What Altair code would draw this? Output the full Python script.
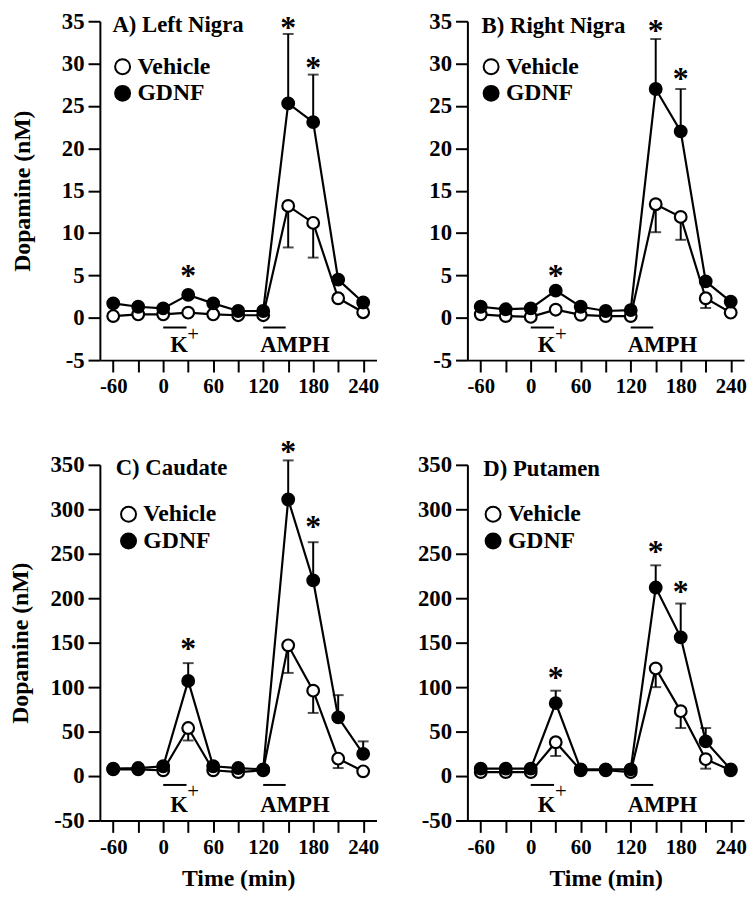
import altair as alt
import pandas as pd

FONT = "Liberation Serif"

times = [-60, -30, 0, 30, 60, 90, 120, 150, 180, 210, 240]
x_ticks = [-60, -30, 0, 30, 60, 90, 120, 150, 180, 210, 240]
x_domain = [-76, 256]

# ---- Panel A: Left Nigra ----
a_vehicle = [0.2, 0.4, 0.4, 0.6, 0.4, 0.3, 0.3, 13.2, 11.2, 2.3, 0.65]
a_gdnf = [1.7, 1.3, 1.1, 2.7, 1.7, 0.8, 0.8, 25.3, 23.1, 4.5, 1.8]
a_vehicle_sem = [0, 0, 0, 0, 0, 0, 0, 4.9, 4.1, 0, 0]
a_gdnf_sem = [0, 0, 0, 0, 0, 0, 0, 8.2, 5.6, 0, 0]
a_star_t = [30, 150, 180]
a_star_y = [5.5, 34.8, 30.1]

# ---- Panel B: Right Nigra ----
b_vehicle = [0.4, 0.2, 0.1, 0.95, 0.35, 0.2, 0.2, 13.4, 11.9, 2.3, 0.6]
b_gdnf = [1.3, 1.0, 1.1, 3.2, 1.3, 0.8, 0.9, 27.0, 22.0, 4.3, 1.9]
b_vehicle_sem = [0, 0, 0, 0, 0, 0, 0, 3.3, 2.7, 1.15, 0]
b_gdnf_sem = [0, 0, 0, 0, 0, 0, 0, 5.9, 5.0, 0, 0]
b_star_t = [30, 150, 180]
b_star_y = [5.5, 34.4, 28.8]

# ---- Panel C: Caudate ----
c_vehicle = [7.5, 7.5, 6.5, 54, 6.5, 4.5, 6.5, 147, 96, 19.6, 5.3]
c_gdnf = [8.3, 9, 11, 107, 11, 9, 7.5, 311, 220, 66, 25]
c_vehicle_sem = [0, 0, 0, 14, 0, 0, 0, 31, 25, 10.6, 0]
c_gdnf_sem = [0, 0, 0, 20, 0, 0, 0, 44, 43, 25, 14]
c_star_t = [30, 150, 180]
c_star_y = [148, 370, 286]

# ---- Panel D: Putamen ----
d_vehicle = [4.5, 4.5, 4.5, 38, 6.5, 6.5, 4.5, 121, 73, 19, 6.5]
d_gdnf = [8.3, 8.3, 8.3, 82, 7.5, 7.5, 7.5, 212, 156, 39, 7.5]
d_vehicle_sem = [0, 0, 0, 15.4, 0, 0, 0, 21, 19, 10.7, 0]
d_gdnf_sem = [0, 0, 0, 14, 0, 0, 0, 25, 38, 15, 0]
d_star_t = [30, 150, 180]
d_star_y = [116, 257, 212]

panel_titles = ["A) Left Nigra", "B) Right Nigra", "C) Caudate", "D) Putamen"]
title_t = [-61, -59, -57, -57]
title_y = [33.7, 33.6, 338.6, 337.5]

# treatment bars (K+ at 0-28 min, AMPH at 120-147 min)
bar_start = [0, 120]
bar_end = [28, 147]
bar_y_small = -1.15
bar_y_large = -10

# treatment labels
k_t = 19
plus_t = 36
amph_t = 158
label_y_small = -4.1
plus_y_small = -2.1
label_y_large = -40.8
plus_y_large = -18

small_dom = [-5, 35]
small_ticks = [-5, 0, 5, 10, 15, 20, 25, 30, 35]
large_dom = [-50, 350]
large_ticks = [-50, 0, 50, 100, 150, 200, 250, 300, 350]

W = 280


def panel(idx, veh, gdnf, veh_sem, gdnf_sem, star_t, star_y, large,
          ytitle, xtitle, legx, legy, height):
    ydom = large_dom if large else small_dom
    yticks = large_ticks if large else small_ticks
    bar_y = bar_y_large if large else bar_y_small
    lab_y = label_y_large if large else label_y_small
    plus_y = plus_y_large if large else plus_y_small

    rows = []
    for name, vals, sems, sign in [("Vehicle", veh, veh_sem, -1), ("GDNF", gdnf, gdnf_sem, 1)]:
        for t, v, s in zip(times, vals, sems):
            rows.append({"time": t, "value": v, "series": name, "sem": s,
                         "value2": v + sign * s})
    df = pd.DataFrame(rows)
    err = df[df["sem"] > 0]

    xaxis = alt.Axis(values=x_ticks, title=("Time (min)" if xtitle else None),
                     labelExpr="datum.value % 60 == 0 ? '' + datum.value : ''",
                     labelFontSize=21, labelPadding=4, titlePadding=10)
    yaxis = alt.Axis(values=yticks, title=("Dopamine (nM)" if ytitle else None),
                     labelExpr="'' + datum.value",
                     labelFontSize=23, labelPadding=4,
                     titlePadding=(18 if large else 27))
    X = alt.X("time:Q", scale=alt.Scale(domain=x_domain, nice=False, zero=False), axis=xaxis)
    Y = alt.Y("value:Q", scale=alt.Scale(domain=ydom, nice=False, zero=False), axis=yaxis)

    lines = alt.Chart(df).mark_line(color="black", strokeWidth=2.2).encode(
        x=X, y=Y, detail="series:N", order="time:Q")
    stems = alt.Chart(err).mark_rule(color="black", strokeWidth=2).encode(
        x=X, y=Y, y2="value2:Q")
    caps = alt.Chart(err).mark_tick(orient="horizontal", size=11, thickness=2,
                                    color="black").encode(
        x=X, y=alt.Y("value2:Q", scale=alt.Scale(domain=ydom, nice=False, zero=False), axis=yaxis))
    points = alt.Chart(df).mark_point(shape="circle", filled=True, stroke="black",
                                      strokeWidth=2.2, size=140, opacity=1).encode(
        x=X, y=Y,
        fill=alt.Fill("series:N",
                      scale=alt.Scale(domain=["Vehicle", "GDNF"], range=["white", "black"]),
                      legend=alt.Legend(title=None, orient="none", legendX=legx, legendY=legy,
                                        labelFont=FONT, labelFontSize=24, labelFontWeight="bold",
                                        labelColor="black", symbolType="circle", symbolSize=230,
                                        symbolStrokeColor="black", symbolStrokeWidth=2,
                                        rowPadding=3, labelOffset=3, padding=0)))

    stars = alt.Chart(pd.DataFrame({"time": star_t, "value": star_y, "txt": ["*"] * len(star_t)})
                      ).mark_text(font=FONT, fontSize=32, fontWeight="bold", color="black",
                                  baseline="alphabetic", dy=15).encode(x=X, y=Y, text="txt:N")

    bars = alt.Chart(pd.DataFrame({"time": bar_start, "time2": bar_end,
                                   "value": [bar_y, bar_y]})).mark_rule(
        color="black", strokeWidth=2).encode(x=X, x2="time2:Q", y=Y)

    labels = alt.Chart(pd.DataFrame({"time": [k_t, amph_t], "value": [lab_y, lab_y],
                                     "txt": ["K", "AMPH"]})).mark_text(
        font=FONT, fontSize=23, fontWeight="bold", color="black",
        baseline="alphabetic", align="center").encode(x=X, y=Y, text="txt:N")
    plus = alt.Chart(pd.DataFrame({"time": [plus_t], "value": [plus_y], "txt": ["+"]})).mark_text(
        font=FONT, fontSize=21, color="black", baseline="middle", align="center").encode(
        x=X, y=Y, text="txt:N")

    ttl = alt.Chart(pd.DataFrame({"time": [title_t[idx]], "value": [title_y[idx]],
                                  "txt": [panel_titles[idx]]})).mark_text(
        font=FONT, fontSize=23, fontWeight="bold", color="black",
        baseline="alphabetic", align="left").encode(x=X, y=Y, text="txt:N")

    return alt.layer(lines, stems, caps, bars, labels, plus, ttl, stars, points).properties(
        width=W, height=height)


pA = panel(0, a_vehicle, a_gdnf, a_vehicle_sem, a_gdnf_sem, a_star_t, a_star_y, False,
           True, False, 11, 34, 343)
pB = panel(1, b_vehicle, b_gdnf, b_vehicle_sem, b_gdnf_sem, b_star_t, b_star_y, False,
           False, False, 12, 34, 343)
pC = panel(2, c_vehicle, c_gdnf, c_vehicle_sem, c_gdnf_sem, c_star_t, c_star_y, True,
           True, True, 17, 38, 360)
pD = panel(3, d_vehicle, d_gdnf, d_vehicle_sem, d_gdnf_sem, d_star_t, d_star_y, True,
           False, True, 14, 38, 360)

chart = alt.concat(pA, pB, pC, pD, columns=2, spacing={"row": 39, "column": 38}).resolve_scale(
    fill="independent").resolve_legend(fill="independent").properties(
    padding={"left": 0, "top": -3, "right": 0, "bottom": 0}
).configure_view(stroke=None).configure_axis(
    domainColor="black", domainWidth=2, tickColor="black", tickWidth=2, tickSize=12,
    labelFont=FONT, labelFontWeight="bold", labelColor="black",
    titleFont=FONT, titleFontWeight="bold", titleColor="black", titleFontSize=24,
    grid=False
)

chart.save("out.html", embed_options={"renderer": "svg", "actions": False})
